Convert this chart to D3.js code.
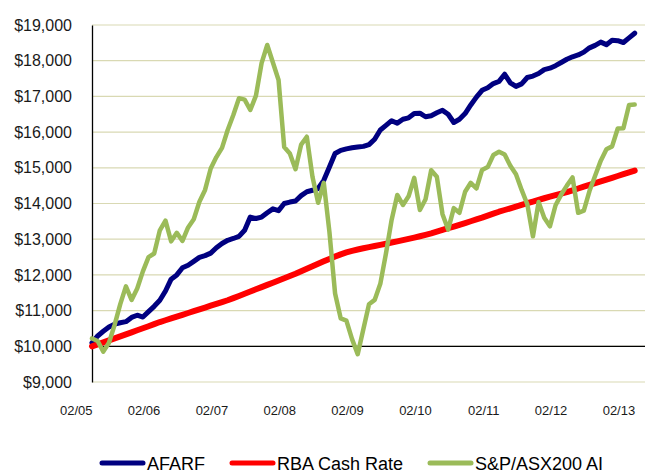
<!DOCTYPE html>
<html>
<head>
<meta charset="utf-8">
<script src="https://cdn.jsdelivr.net/npm/d3@7"></script>
<style>
  html, body { margin: 0; padding: 0; background: #fff; }
  svg { display: block; font-family: "Liberation Sans", Arial, sans-serif; }
</style>
</head>
<body>
<svg id="chart" width="645" height="472"></svg>
<script>
// ---- data (monthly, 02/05 .. 02/13) ----
const tickLabels = ["02/05","02/06","02/07","02/08","02/09","02/10","02/11","02/12","02/13"];
const seriesNames = ["AFARF","RBA Cash Rate","S&P/ASX200 AI"];
const yTicks = [9000,10000,11000,12000,13000,14000,15000,16000,17000,18000,19000];

const afarf = [
  10100,10290,10420,10540,10620,10660,10690,10810,10870,10820,10970,11120,
  11290,11550,11880,12000,12200,12270,12380,12490,12540,12610,12760,12880,
  12970,13020,13080,13250,13620,13580,13620,13740,13850,13800,14000,14040,
  14070,14220,14330,14370,14420,14650,15020,15400,15490,15530,15560,15580,
  15600,15650,15800,16060,16190,16320,16250,16360,16400,16520,16530,16430,
  16460,16540,16610,16500,16270,16360,16520,16760,16980,17170,17240,17360,
  17420,17620,17380,17280,17350,17530,17570,17640,17750,17790,17860,17950,
  18040,18110,18160,18240,18360,18430,18520,18450,18570,18560,18510,18640,
  18770
];
const rba = [
  10000,10055,10110,10165,10222,10278,10335,10392,10449,10506,10563,10621,
  10680,10730,10781,10832,10882,10933,10984,11035,11086,11137,11188,11239,
  11290,11350,11411,11472,11534,11596,11658,11720,11782,11844,11906,11968,
  12030,12100,12170,12240,12310,12380,12448,12514,12576,12630,12675,12712,
  12745,12778,12810,12842,12874,12906,12939,12973,13008,13045,13083,13123,
  13165,13212,13259,13307,13355,13404,13453,13503,13553,13604,13660,13715,
  13770,13818,13866,13914,13961,14009,14056,14102,14147,14191,14236,14278,
  14320,14370,14420,14470,14520,14570,14620,14670,14720,14770,14820,14870,
  14920
];
const asx = [
  10220,10150,9850,10100,10600,11180,11680,11300,11620,12100,12500,12600,
  13250,13520,12940,13180,12950,13330,13560,14050,14380,14980,15300,15560,
  16060,16480,16950,16910,16620,17020,17930,18440,17950,17460,15580,15400,
  14960,15650,15870,14750,14020,14580,13200,11480,10780,10720,10200,9780,
  10480,11180,11300,11750,12600,13540,14240,13960,14200,14720,13820,14120,
  14930,14750,13700,13270,13870,13740,14330,14580,14420,14940,15020,15360,
  15450,15370,15060,14820,14380,13980,13080,14040,13600,13360,13950,14250,
  14500,14730,13740,13800,14350,14780,15200,15520,15600,16100,16110,16760,
  16770
];
const seriesColors = ["#000080","#ff0000","#9bbb59"];

// ---- layout ----
const svg = d3.select("#chart");
const plotLeft = 92, plotRight = 645, plotTop = 25, plotBottom = 382;
const lastIndex = afarf.length - 1;

const x = d3.scaleLinear().domain([0, lastIndex]).range([plotLeft, 634.7]);
const y = d3.scaleLinear().domain([9000, 19000]).range([plotBottom, plotTop]);

// gridlines
svg.append("g")
  .selectAll("line")
  .data(yTicks)
  .join("line")
  .attr("x1", plotLeft).attr("x2", plotRight)
  .attr("y1", d => y(d)).attr("y2", d => y(d))
  .attr("stroke", "#d9d9b3").attr("stroke-width", 1.2);

// category axis crossing at 10,000
svg.append("line")
  .attr("x1", plotLeft).attr("x2", plotRight)
  .attr("y1", y(10000)).attr("y2", y(10000))
  .attr("stroke", "#000").attr("stroke-width", 1.3);

// y axis
const yAxis = d3.axisLeft(y)
  .tickValues(yTicks)
  .tickSize(0)
  .tickPadding(20)
  .tickFormat(d => "$" + d3.format(",")(d));
const yg = svg.append("g").attr("transform", `translate(${plotLeft},0)`).call(yAxis);
yg.select(".domain").attr("stroke", "#000").attr("stroke-width", 1.3);
yg.selectAll("text").attr("font-size", 16).attr("fill", "#1a1a1a")
  .attr("font-family", "'Liberation Sans', Arial, sans-serif");

// x labels (right-aligned at each February)
const xTickIdx = tickLabels.map((_, i) => i * 12);
const xAxis = d3.axisBottom(x)
  .tickValues(xTickIdx)
  .tickSize(0)
  .tickFormat((d, i) => tickLabels[i]);
const xg = svg.append("g").attr("transform", `translate(0,${plotBottom})`).call(xAxis);
xg.select(".domain").remove();
xg.selectAll("text")
  .attr("font-size", 13).attr("fill", "#1a1a1a")
  .attr("text-anchor", "end")
  .attr("dy", 0).attr("y", 33)
  .attr("font-family", "'Liberation Sans', Arial, sans-serif");

// series
const allSeries = [afarf, rba, asx];
const widths = [5, 6, 4.5];
const line = d3.line().x((d, i) => x(i)).y(d => y(d));
allSeries.forEach((s, k) => {
  svg.append("path")
    .datum(s)
    .attr("d", line)
    .attr("fill", "none")
    .attr("stroke", seriesColors[k])
    .attr("stroke-width", widths[k])
    .attr("stroke-linejoin", "round")
    .attr("stroke-linecap", "round");
});

// legend
const legendY = 463;
const legendX = [102, 232, 430];
const lg = svg.append("g");
seriesNames.forEach((name, k) => {
  lg.append("line")
    .attr("x1", legendX[k]).attr("x2", legendX[k] + 41)
    .attr("y1", legendY).attr("y2", legendY)
    .attr("stroke", seriesColors[k]).attr("stroke-width", 5)
    .attr("stroke-linecap", "round");
  lg.append("text")
    .attr("x", legendX[k] + 45).attr("y", legendY + 6.5)
    .attr("font-size", 18).attr("fill", "#000")
    .text(name);
});
</script>
</body>
</html>
